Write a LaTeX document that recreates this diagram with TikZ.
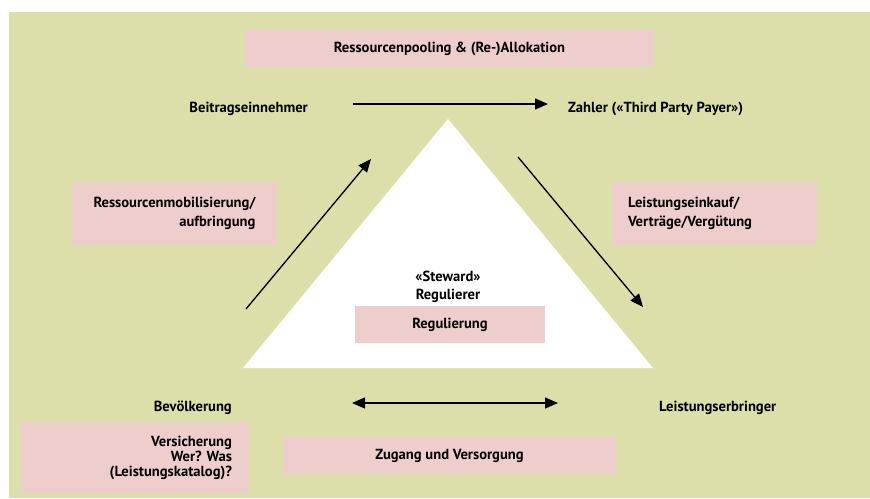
\documentclass[tikz,border=0pt]{standalone}
\usepackage{fontspec}
\setmainfont{PT Sans}
\usetikzlibrary{arrows.meta}
\definecolor{bggreen}{RGB}{221,223,170}
\definecolor{boxpink}{RGB}{238,206,205}
\frenchspacing
\begin{document}
\begin{tikzpicture}[x=1pt,y={(0pt,-1pt)},
  every node/.style={font=\bfseries\fontsize{14.6}{19.5}\selectfont, text=black, inner sep=0pt},
  pinkbox/.style={fill=boxpink, inner sep=0pt},
  flow/.style={line width=1.3pt, -{Triangle[length=13pt,width=11pt]}},
  flowboth/.style={line width=1.3pt, {Triangle[length=13pt,width=11pt]}-{Triangle[length=13pt,width=11pt]}}]
\useasboundingbox (0,0) rectangle (870,498);
\fill[bggreen] (9,12) rectangle (870,498);
\fill[white] (448,119) -- (653,368) -- (243,368) -- cycle;
% boxes
\node[pinkbox, minimum width=409, minimum height=37] (pool) at (449.5,48.5) {Ressourcenpooling \& (Re-)Allokation};
\node[pinkbox, minimum width=205, minimum height=63, align=right] (mobil) at (174.5,213.5) {Ressourcenmobilisierung/\\aufbringung};
\node[pinkbox, minimum width=205, minimum height=63, text width=173, align=left] (einkauf) at (714.5,213.5) {Leistungseinkauf/\\Verträge/Vergütung};
\node[pinkbox, minimum width=190, minimum height=37] (reg) at (450,324.5) {Regulierung};
\node[pinkbox, minimum width=228, minimum height=71, text width=194, align=right, font=\bfseries\fontsize{14.6}{15}\selectfont] (vers) at (135,457.5) {Versicherung\\Wer? Was\\(Leistungskatalog)?};
\node[pinkbox, minimum width=333, minimum height=37] (zugang) at (449.5,455.5) {Zugang und Versorgung};
% labels
\node[anchor=base east] (beitrag) at (308,112) {Beitragseinnehmer};
\node[anchor=base west] (zahler) at (568,112) {Zahler («Third Party Payer»)};
\node[anchor=base east] (bevoelk) at (232,411) {Bevölkerung};
\node[anchor=base west] (erbringer) at (659,411) {Leistungserbringer};
\node[align=center, font=\bfseries\fontsize{14.6}{18}\selectfont] (steward) at (448,287) {«Steward»\\Regulierer};
% arrows
\coordinate (a1s) at (353,104); \coordinate (a1e) at (548,104);
\coordinate (a2s) at (246,309); \coordinate (a2e) at (371,159);
\coordinate (a3s) at (518,157); \coordinate (a3e) at (643,307);
\coordinate (a4s) at (352,403); \coordinate (a4e) at (558,403);
\draw[flow] (a1s) -- (a1e);
\draw[flow] (a2s) -- (a2e);
\draw[flow] (a3s) -- (a3e);
\draw[flowboth] (a4s) -- (a4e);
\end{tikzpicture}
\end{document}
